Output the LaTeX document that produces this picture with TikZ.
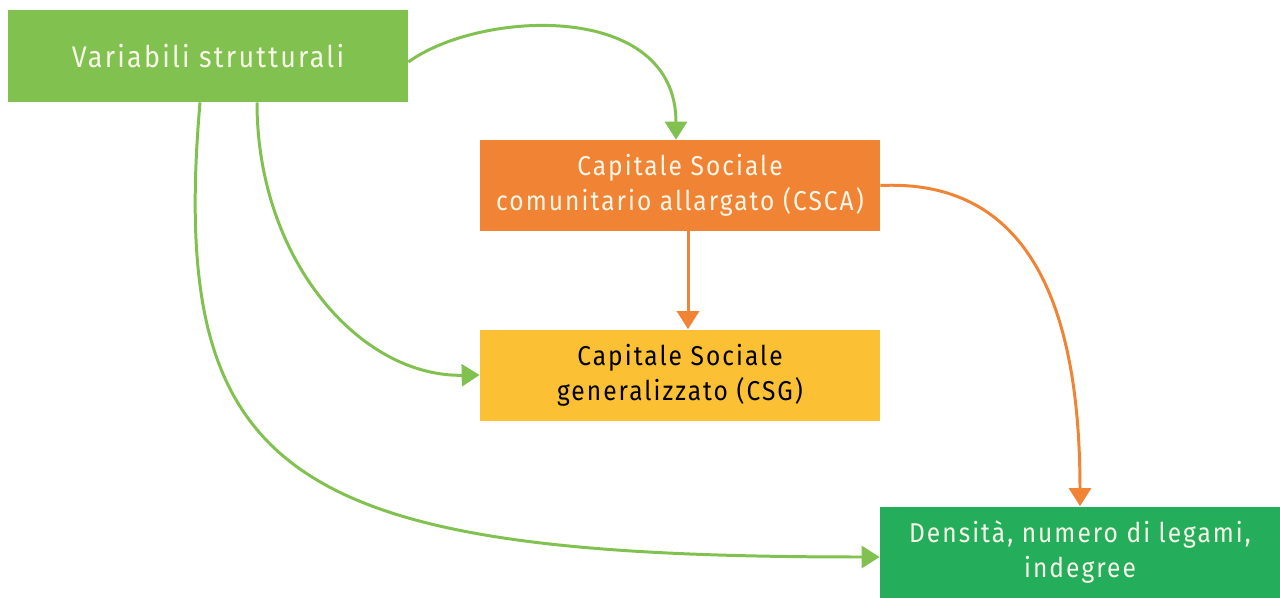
\documentclass[tikz,border=0pt]{standalone}
\usepackage{xcolor}
\usepackage{fontspec}
\setmainfont{Fira Sans}[FakeStretch=0.9,LetterSpace=7.5]
\usepackage{tikz}
\usetikzlibrary{shapes,arrows.meta,positioning}
\definecolor{structgreen}{RGB}{128,193,80}
\definecolor{cscaorange}{RGB}{240,132,52}
\definecolor{csgyellow}{RGB}{252,192,52}
\definecolor{netgreen}{RGB}{36,174,92}
\definecolor{boxtext}{RGB}{248,246,232}

\begin{document}
\begin{tikzpicture}[
  >={Triangle[length=3.6mm,width=4.4mm]},
  box/.style={rectangle,minimum width=8cm,minimum height=1.82cm,align=center,
    inner sep=0pt,font=\fontsize{15.5}{20}\selectfont,text=boxtext},
  link/.style={->,line width=1.7pt},
]
\useasboundingbox (0,0) rectangle (25.6,11.94);

% Structural variables
\node[box,fill=structgreen,minimum height=1.84cm,font=\fontsize{17}{22}\selectfont] (strut) at (4.16,10.82) {Variabili strutturali};

% Community social capital
\node[box,fill=cscaorange] (csca) at (13.6,8.23) {
  Capitale Sociale\\
  comunitario allargato (CSCA)
};

% Generalised social capital
\node[box,fill=csgyellow,text=black] (csg) at (13.6,4.44) {
  Capitale Sociale\\
  generalizzato (CSG)
};

% Network measures
\node[box,fill=netgreen] (dens) at (21.6,0.9) {
  Densità, numero di legami,\\
  indegree
};

% Links from the structural variables
\draw[link,structgreen] ([yshift=-1.2mm]strut.east) .. controls (9.6,11.74) and (13.52,11.94) .. ([xshift=-0.8mm]csca.north);
\draw[link,structgreen] ([xshift=9.8mm]strut.south) .. controls (5.14,6.74) and (7.2,4.4) .. (csg.west);
\draw[link,structgreen] ([xshift=-1.6mm]strut.south) .. controls (3.35,2.3) and (5.8,0.8) .. ([yshift=-1mm]dens.west);

% Links from CSCA
\draw[link,cscaorange] ([xshift=1.6mm]csca.south) -- ([xshift=1.6mm]csg.north);
\draw[link,cscaorange] (csca.east) .. controls (20,8.34) and (21.6,6.74) .. (dens.north);

\end{tikzpicture}
\end{document}
